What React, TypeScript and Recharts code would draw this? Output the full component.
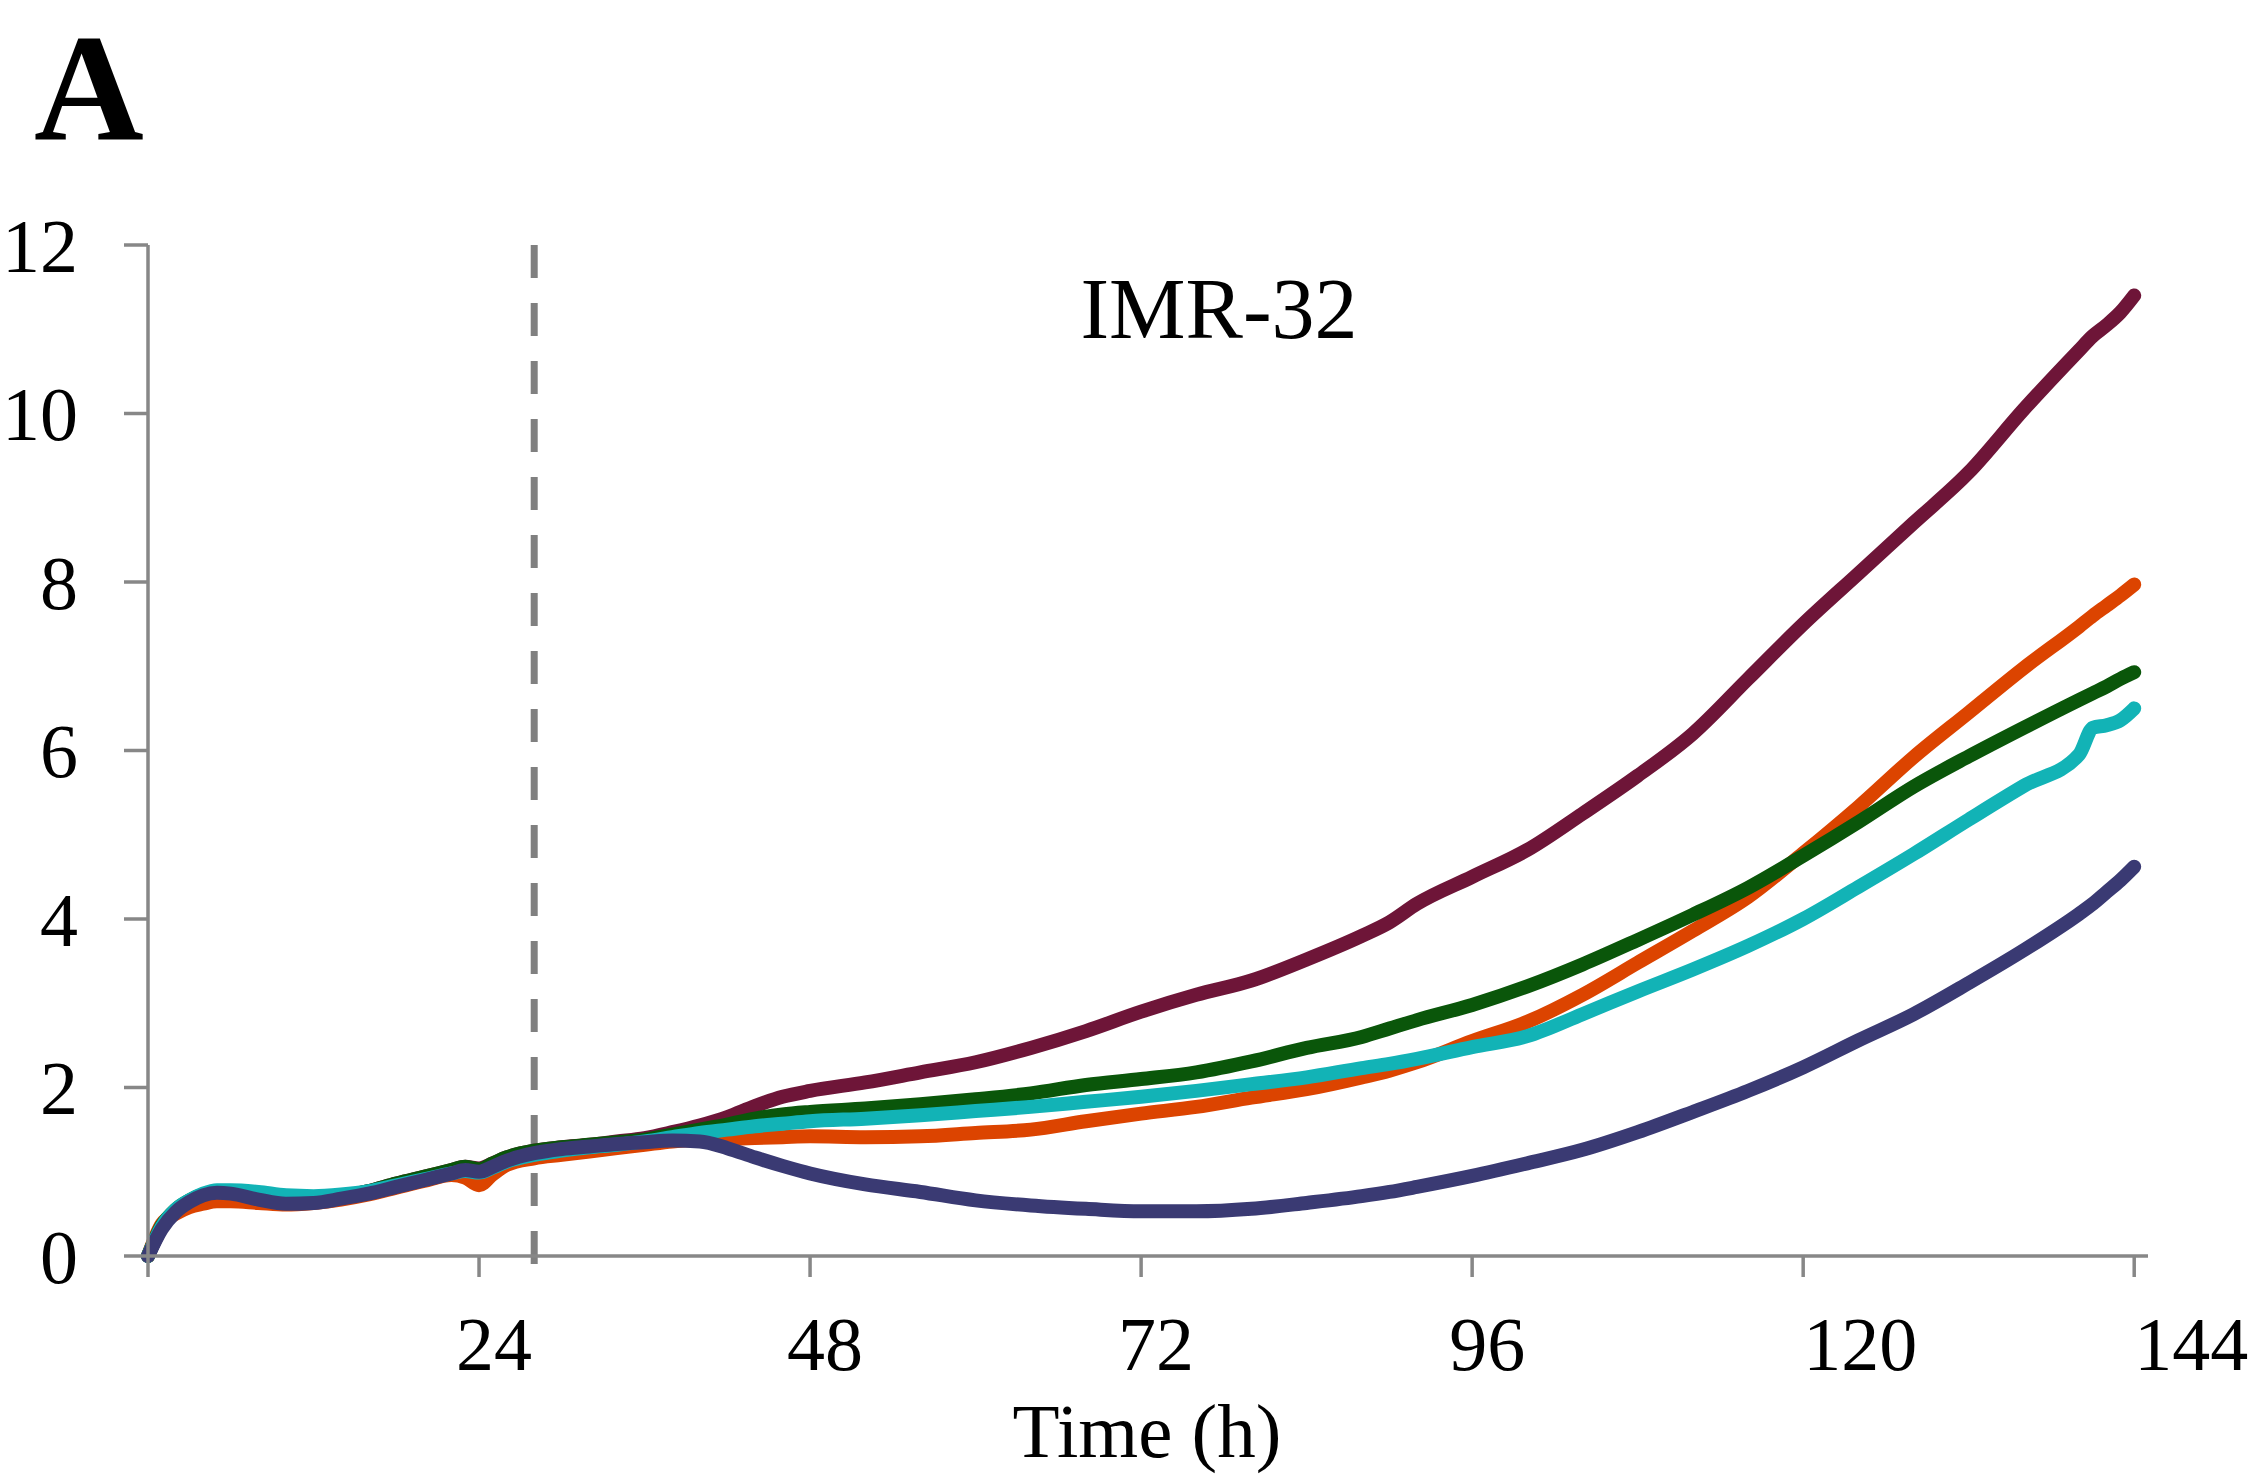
import { Line, LineChart, ReferenceLine, XAxis, YAxis } from "recharts";

// sampling times (h)
const hours = [
  0, 1, 2, 3, 4, 5, 6, 8, 10, 12, 14, 16, 18, 20, 22, 23, 24, 25, 26, 28, 30, 32, 34, 36, 38, 40, 42, 44, 46, 48, 52,
  56, 60, 64, 68, 72, 76, 80, 84, 88, 90, 92, 96, 100, 104, 108, 112, 116, 120, 124, 128, 132, 136, 140, 141, 142, 143,
  144,
];

const maroon = [
  0, 0.34, 0.53, 0.64, 0.72, 0.76, 0.76, 0.71, 0.66, 0.66, 0.7, 0.77, 0.86, 0.94, 1.02, 1.06, 1.04, 1.1, 1.17, 1.25,
  1.29, 1.32, 1.36, 1.4, 1.47, 1.55, 1.65, 1.78, 1.89, 1.96, 2.06, 2.18, 2.3, 2.47, 2.67, 2.9, 3.1, 3.27, 3.52, 3.8,
  3.96, 4.18, 4.5, 4.82, 5.25, 5.7, 6.2, 6.85, 7.5, 8.1, 8.7, 9.3, 10.05, 10.75, 10.92, 11.05, 11.2, 11.4,
];

const orange = [
  0, 0.38, 0.5, 0.58, 0.62, 0.65, 0.65, 0.63, 0.61, 0.63, 0.67, 0.73, 0.81, 0.89, 0.96, 0.93, 0.84, 0.97, 1.08, 1.16,
  1.2, 1.24, 1.28, 1.32, 1.36, 1.38, 1.39, 1.4, 1.41, 1.42, 1.41, 1.42, 1.46, 1.5, 1.6, 1.69, 1.77, 1.88, 1.98, 2.12,
  2.2, 2.3, 2.55, 2.78, 3.1, 3.48, 3.86, 4.26, 4.78, 5.33, 5.92, 6.45, 6.98, 7.47, 7.6, 7.72, 7.84, 7.97,
];

const green = [
  0, 0.36, 0.55, 0.66, 0.73, 0.77, 0.77, 0.72, 0.66, 0.66, 0.7, 0.77, 0.86, 0.94, 1.02, 1.06, 1.03, 1.1, 1.17, 1.25,
  1.29, 1.32, 1.35, 1.38, 1.44, 1.5, 1.56, 1.63, 1.68, 1.71, 1.75, 1.8, 1.86, 1.93, 2.03, 2.1, 2.18, 2.31, 2.47, 2.6,
  2.7, 2.8, 2.98, 3.2, 3.46, 3.75, 4.05, 4.37, 4.75, 5.15, 5.57, 5.93, 6.27, 6.6, 6.68, 6.76, 6.85, 6.93,
];

const cyan = [
  0, 0.35, 0.55, 0.66, 0.74, 0.78, 0.78, 0.76, 0.72, 0.71, 0.73, 0.77, 0.84, 0.91, 0.98, 1.01, 0.99, 1.05, 1.12, 1.2,
  1.25, 1.29, 1.32, 1.36, 1.41, 1.46, 1.5, 1.54, 1.57, 1.6, 1.63, 1.67, 1.72, 1.77, 1.83, 1.89, 1.96, 2.04, 2.12, 2.23,
  2.28, 2.34, 2.48, 2.61, 2.87, 3.14, 3.4, 3.68, 4.0, 4.38, 4.77, 5.18, 5.58, 5.95, 6.27, 6.3, 6.36, 6.5,
];

const navy = [
  0, 0.32, 0.52, 0.64, 0.72, 0.75, 0.74, 0.67, 0.62, 0.63, 0.68, 0.74, 0.82, 0.9, 0.98, 1.02, 1.0, 1.06, 1.13, 1.22,
  1.27, 1.3, 1.33, 1.35, 1.37, 1.36, 1.28, 1.17, 1.07, 0.98, 0.85, 0.76, 0.66, 0.6, 0.56, 0.53, 0.53, 0.56, 0.63, 0.71,
  0.76, 0.82, 0.95, 1.1, 1.26, 1.47, 1.71, 1.96, 2.24, 2.56, 2.87, 3.24, 3.63, 4.06, 4.18, 4.32, 4.46, 4.62,
];

const xTicks = [0, 24, 48, 72, 96, 120, 144];
const yTicks = [0, 2, 4, 6, 8, 10, 12];
const treatmentHour = 28;

// drawn bottom to top
const series = [
  { key: "maroon", values: maroon, color: "#6e1538" },
  { key: "orange", values: orange, color: "#dc4400" },
  { key: "green", values: green, color: "#0a560a" },
  { key: "cyan", values: cyan, color: "#12b3b6" },
  { key: "navy", values: navy, color: "#3a3a73" },
];

const chartData = hours.map((hour, i) => {
  const row: Record<string, number> = { hour };
  series.forEach((s) => {
    row[s.key] = s.values[i];
  });
  return row;
});

const FONT = "'Liberation Serif', 'DejaVu Serif', serif";
const AXIS = "#878787";

// hour labels sit a little right of their ticks, three-digit ones more so
const TimeTick = ({ x, y, payload }: any) => {
  if (payload.value === 0) return <g />;
  const shift = String(payload.value).length > 2 ? 57 : 15;
  return (
    <text x={x + shift} y={y} dy="0.71em" textAnchor="middle" fontSize={76} fontFamily={FONT} fill="#000">
      {payload.value}
    </text>
  );
};

export default function App() {
  return (
    <div style={{ position: "absolute", left: 0, top: 0, width: 2255, height: 1482, background: "#fff" }}>
      <LineChart
        width={2255}
        height={1482}
        data={chartData}
        margin={{ top: 245, right: 107, left: 0, bottom: 0 }}
        style={{ fontFamily: FONT }}
      >
        <XAxis
          dataKey="hour"
          type="number"
          domain={[0, 145]}
          ticks={xTicks}
          height={226}
          tickSize={21}
          tickMargin={39}
          stroke={AXIS}
          strokeWidth={3.5}
          tick={<TimeTick />}
          interval={0}
        />
        <YAxis
          type="number"
          domain={[0, 12]}
          ticks={yTicks}
          width={148}
          tickSize={24}
          tickMargin={46}
          stroke={AXIS}
          strokeWidth={3.5}
          tick={{ fill: "#000", fontSize: 76, fontFamily: FONT }}
          interval={0}
        />
        <ReferenceLine
          segment={[
            { x: treatmentHour, y: 12 },
            { x: treatmentHour, y: -0.17 },
          ]}
          ifOverflow="visible"
          stroke="#808080"
          strokeWidth={7}
          strokeDasharray="33 25"
        />
        {series.map((s) => (
          <Line
            key={s.key}
            dataKey={s.key}
            type="monotone"
            stroke={s.color}
            strokeWidth={14}
            strokeLinecap="round"
            strokeLinejoin="round"
            dot={false}
            isAnimationActive={false}
          />
        ))}
      </LineChart>
      <svg
        width={2255}
        height={1482}
        style={{ position: "absolute", left: 0, top: 0, pointerEvents: "none" }}
        fontFamily={FONT}
      >
        <text x={34} y={139} fontSize={152} fontWeight="bold" fill="#000">
          A
        </text>
        <text x={1219} y={338} fontSize={86} textAnchor="middle" fill="#000">
          IMR-32
        </text>
        <text x={1147} y={1457} fontSize={77} textAnchor="middle" fill="#000">
          Time (h)
        </text>
      </svg>
    </div>
  );
}
